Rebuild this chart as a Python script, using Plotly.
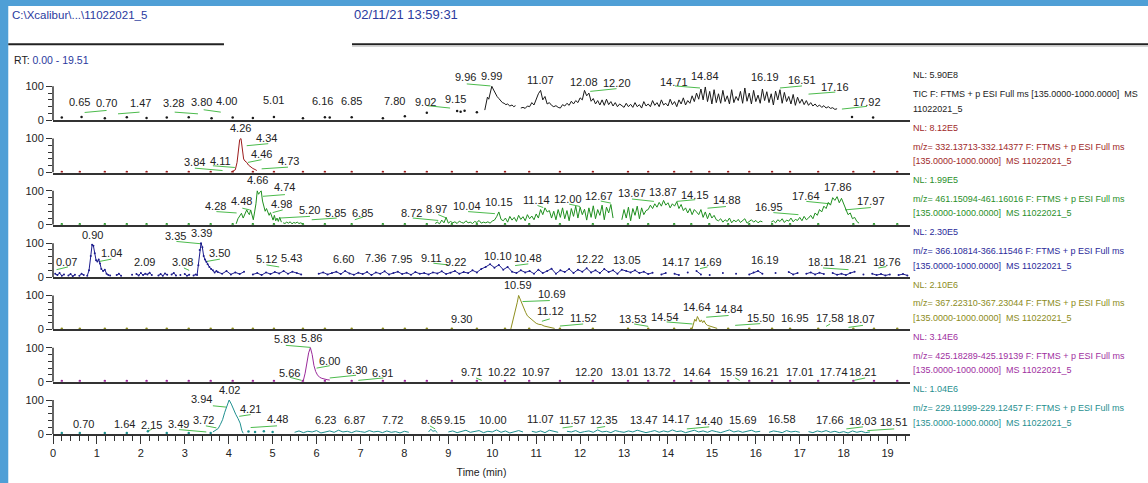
import plotly.graph_objects as go
from plotly.subplots import make_subplots

FONT = "Liberation Sans, Arial, sans-serif"
X_MAX = 19.51
Y_TOP = 153.8

# ---------------- data (retention time in min, relative abundance %) ----------------
# shared sparse scan points that show as small dots at the baseline
SPARSE_T = [0.20, 0.61, 1.18, 1.68, 2.13, 2.59, 3.09, 3.59, 4.09, 4.55, 5.03, 5.69, 6.19,
            6.80, 7.51, 8.01, 8.51, 9.08, 9.65, 10.29, 10.84, 11.54, 12.29, 13.09, 13.55,
            14.14, 14.53, 14.94, 15.37, 15.85, 16.37, 16.78, 17.42, 18.22, 18.69, 19.22]

# TIC
TIC_DOT_T = [0.20, 0.65, 1.18, 1.68, 2.13, 2.59, 3.09, 3.61, 4.09, 4.55, 5.03, 5.69, 6.19,
             6.30, 6.80, 7.51, 8.01, 8.51, 9.20, 9.28, 9.37, 9.65, 18.19, 18.67]
TIC_DOT_V = [8, 10, 6, 9, 7, 8, 9, 6, 8, 7, 10, 6, 9, 8, 9, 6, 12, 22, 27, 25, 28, 24, 10, 8]
TIC_A_T = [9.83, 9.86, 9.89, 9.92, 9.95, 9.99, 10.02, 10.05, 10.08, 10.11, 10.15, 10.19,
           10.23, 10.27, 10.31, 10.35, 10.40, 10.45, 10.49, 10.53]
TIC_A_V = [30, 48, 68, 62, 80, 100, 92, 84, 78, 70, 64, 57, 52, 50, 46, 48, 42, 45, 40, 43]
TIC_B_START, TIC_B_STEP = 10.65, 0.05
TIC_B_V = [36, 38, 35, 42, 40, 52, 45, 62, 78, 88,
           60, 70, 48, 52, 44, 40, 43, 38, 36, 46,
           42, 50, 44, 56, 48, 58, 52, 66, 60, 88,
           72, 80, 56, 64, 48, 58, 45, 60, 44, 62,
           46, 55, 42, 52, 40, 48, 44, 38, 50, 40,
           47, 38, 52, 40, 46, 36, 55, 42, 48, 40,
           58, 44, 52, 40, 60, 45, 50, 42, 62, 46,
           55, 40, 60, 48, 66, 45, 58, 50, 72, 55,
           80, 62, 92, 60, 98, 55, 85, 48, 90, 52,
           78, 50, 88, 55, 72, 48, 90, 52, 70, 58,
           85, 50, 95, 56, 80, 48, 88, 55, 74, 50,
           92, 58, 84, 52, 78, 45, 86, 60, 90, 50,
           82, 55, 70, 48, 76, 44, 68, 50, 62, 46,
           58, 44, 52, 42, 48, 40, 45, 38, 43, 36,
           40, 35, 37, 32, 34]

# m/z 332
R_T = [4.05, 4.10, 4.15, 4.19, 4.22, 4.25, 4.28, 4.31, 4.34, 4.37, 4.41, 4.45, 4.50, 4.55, 4.60, 4.64]
R_V = [1, 4, 8, 30, 70, 97, 100, 62, 40, 34, 30, 22, 16, 12, 9, 6]

# m/z 461
G_A_T = [4.17, 4.21, 4.25, 4.29, 4.33, 4.37, 4.41, 4.44, 4.47, 4.50, 4.53, 4.56, 4.59, 4.62,
         4.65, 4.68, 4.71, 4.74, 4.77, 4.80, 4.83, 4.86, 4.89, 4.92, 4.95, 4.98, 5.01, 5.04,
         5.07, 5.10, 5.13, 5.16, 5.20]
G_A_V = [3, 18, 26, 34, 20, 30, 44, 36, 30, 44, 28, 15, 38, 62, 100, 90, 96, 100, 70, 52, 40,
         48, 35, 28, 36, 22, 14, 28, 12, 20, 10, 22, 8]
G_B_START, G_B_STEP = 5.24, 0.04
G_B_V = [6, 4, 8, 5, 9, 3, 7, 5, 8, 4, 6, 3]
G_C_START, G_C_STEP = 8.70, 0.05
G_C_V = [4, 8, 3, 14, 6, 22, 5, 10, 6, 9,
         4, 11, 7, 5, 12, 6, 8, 4, 10, 7,
         13, 5, 8, 6, 9, 5, 11, 14, 24, 38,
         16, 12, 20, 8, 25, 14, 22, 10, 28, 16,
         24, 12, 30, 18, 26, 15, 32, 20, 45, 30,
         50, 38, 42, 20, 40, 15, 45, 22, 50, 18,
         42, 12, 48, 25, 55, 20, 52, 30, 46, 14,
         50, 22, 56, 18, 45, 28, 58, 15, 52, 35,
         60, 20, None, None, None, 15, 45, 20, 52, 12,
         48, 28, 55, 18, 50, 30, 42, 45, 58, 48,
         62, 52, 66, 55, 72, 58, 65, 50, 62, 55,
         68, 48, 60, 42, 50, 35, 48, 30, 45, 38,
         30, 45, 22, 38, 18, 35, 20, 28, 15, 12,
         18, 8, 15, 10, 20, 6, 14, 9, 16, 7,
         12, 18, 5, 10, 15, 8, 13, 6, 11, 9,
         None, None, None, 8, 12, 6, 15, 10, 18, 7,
         14, 11, 20, 9, 16, 13, 22, 12, 25, 15,
         20, 28, 18, 35, 28, 45, 38, 55, 48, 66,
         58, 80, 72, 83, 65, 78, 60, 45, 30, 35,
         18, 22, 10, 5]

# m/z 366
B_A_START, B_A_STEP = 0.05, 0.05
B_A_V = [10, 6, 12, 4, 8, None, 5, 9, 3, 7, None, 4, 10, 6]
B_P1_T = [0.78, 0.82, 0.86, 0.89, 0.92, 0.95, 0.98, 1.01, 1.04, 1.07, 1.10, 1.14, 1.18, 1.22, 1.26]
B_P1_V = [4, 20, 62, 95, 92, 70, 50, 46, 52, 40, 24, 18, 22, 10, 6]
B_B_START, B_B_STEP = 1.30, 0.05
B_B_V = [5, None, None, 6, 10, 4, None, None, None, None,
         7, None, 9, 5, 12, 6, 10, 8, 13, 6,
         None, None, 5, 9, 4, 11, 7, None, 8, 12,
         5, None, 6, None, 9, 4, 7, None, 5, 8]
B_P2_T = [3.28, 3.31, 3.34, 3.37, 3.40, 3.43, 3.46, 3.49, 3.52, 3.56, 3.60, 3.64, 3.68, 3.72]
B_P2_V = [6, 35, 80, 100, 88, 62, 52, 45, 38, 30, 24, 20, 14, 18]
B_C_START, B_C_STEP = 3.75, 0.10
B_C_V = [15, 10, 18, 8, 14, 9, 16]
B_D_START, B_D_STEP = 4.55, 0.10
B_D_V = [8, 12, 6, 14, 9, 15, 11, 18, 10, 16, 12, 8]
B_E_START, B_E_STEP = 6.05, 0.10
B_E_V = [10, 14, 8, 12, 16, 9, 18, 11, 7, 13,
         9, 15, 6, 14, 10, 17, 8, 12, 16, 9,
         13, 7, 15, 10, 12, 8, 14, 11, 17, 9,
         13, 18, 10, 15, 12, 20, 14, 24, 30, 38,
         28, 36, 22, 30, 16, 12, 20, 14, 18, 10,
         22, 12, 18, 25, 10, 20, 15, 24, 12, 22,
         16, 26, 14, 20, 12, 24, 15, 20, 10, 22,
         18, 14, 20, 12, 16, 9, 13, None, 8, 12,
         None, 10, 6, None, 14, None, 18, 8, None, 6,
         None, None, 12, None, None, 10, None, None, 8, 14,
         18, 10, None, None, 12, None, None, 15, 8, 12,
         None, 10, 14, 8, 13, 9, None, 12, 7, 10,
         6, 12, 16, None, 8, None, 10, 6, 9, 5,
         8, None, 6, 9, 5]

# m/z 367
O_P1_T = [10.42, 10.46, 10.50, 10.54, 10.57, 10.60, 10.63, 10.66, 10.69, 10.72, 10.76, 10.80,
          10.85, 10.90, 10.95, 11.00, 11.06, 11.12, 11.18, 11.24, 11.30, 11.36, 11.42]
O_P1_V = [0, 20, 40, 62, 80, 100, 90, 78, 68, 58, 50, 40, 34, 28, 24, 18, 15, 14, 10, 8, 6, 5, 3]
O_P2_T = [14.55, 14.58, 14.61, 14.64, 14.67, 14.70, 14.73, 14.76, 14.79, 14.82, 14.86, 14.90,
          14.95, 15.00, 15.06, 15.12]
O_P2_V = [2, 15, 30, 24, 38, 30, 22, 28, 20, 26, 16, 12, 10, 8, 5, 3]

# m/z 425
M_T = [5.66, 5.70, 5.74, 5.78, 5.82, 5.86, 5.90, 5.94, 5.98, 6.02, 6.07, 6.12, 6.18, 6.24, 6.30]
M_V = [0, 4, 25, 55, 85, 100, 80, 48, 30, 20, 13, 10, 7, 6, 5]

# m/z 229
C_DOT_T = [0.20, 0.61, 1.18, 1.68, 2.16, 2.59, 3.09, 3.59, 4.45, 4.60, 4.80, 5.00]
C_DOT_V = [3, 3, 3, 3, 8, 3, 3, 3, 7, 6, 8, 6]
C_P_T = [3.64, 3.70, 3.76, 3.81, 3.86, 3.91, 3.96, 4.01, 4.06, 4.11, 4.16, 4.21, 4.26, 4.30, 4.33]
C_P_V = [6, 10, 16, 28, 42, 64, 82, 100, 88, 70, 58, 46, 32, 10, 2]
C_A_START, C_A_STEP = 5.50, 0.10
C_A_V = [5, 9, 4, 8, 6, 10, 3, 7, 9, 5, 11, 6, 8, 4, 9, 7, 5, 10, 6, 8, 4, 9, 5, 7, 3, 8, 5]
C_B_START, C_B_STEP = 8.55, 0.05
C_B_V = [6, 14, 8, 10, 4]
C_C_START, C_C_STEP = 9.00, 0.10
C_C_V = [6, 9, 4, 8, 11, 5, 7, 10, 4, 8,
         6, 12, 5, 9, 3, 7, 10, 6, None, 8,
         5, 9, 4, 11, 7, 5, None, 8, 6, 10,
         4, 7, 9, 5, 12, 6, 8, 4, 10, 7,
         5, 9, 6, 11, 8, 4, 7, 10, 5, 9,
         6, 12, 7, 9, 4, 8, 11, 6, 9, 5,
         10, 7, 4, 8, 12, 6, 9, 5, 7, 11,
         6, 8, None, 5, 9, 7, 4, 10, 6, 8,
         5, None, 7, 4, 9, 6, 10, 5, 8, 4,
         7, 3, 9, 5, 8, 4, 6]

# peak labels: (text, rt position of label, height of label in %)
TIC_LABELS = [("0.65", 0.61, 54), ("0.70", 1.22, 51), ("1.47", 2.00, 51), ("3.28", 2.75, 51),
              ("3.80", 3.39, 54), ("4.00", 3.96, 57), ("5.01", 5.03, 60), ("6.16", 6.14, 57),
              ("6.85", 6.80, 57), ("7.80", 7.78, 57), ("9.02", 8.49, 54), ("9.15", 9.17, 63),
              ("9.96", 9.38, 126), ("9.99", 9.99, 131), ("11.07", 11.09, 119), ("12.08", 12.09, 114),
              ("12.20", 12.84, 109), ("14.71", 14.14, 114), ("14.84", 14.84, 129), ("16.19", 16.21, 126),
              ("16.51", 17.05, 119), ("17.16", 17.81, 99), ("17.92", 18.54, 55)]
R_LABELS = [("4.26", 4.27, 131), ("4.34", 4.87, 101), ("4.46", 4.75, 54), ("4.73", 5.36, 33),
            ("3.84", 3.21, 30), ("4.11", 3.81, 35)]
G_LABELS = [("4.66", 4.66, 131), ("4.74", 5.28, 110), ("4.28", 3.71, 56), ("4.48", 4.28, 69),
            ("4.98", 5.21, 62), ("5.20", 5.83, 44), ("5.85", 6.44, 36), ("6.85", 7.05, 36),
            ("8.72", 8.16, 36), ("8.97", 8.72, 46), ("10.04", 9.42, 56), ("10.15", 10.16, 66),
            ("11.14", 11.00, 74), ("12.00", 11.73, 77), ("12.67", 12.43, 86), ("13.67", 13.18, 94),
            ("13.87", 13.88, 98), ("14.15", 14.62, 89), ("14.88", 15.34, 72), ("16.95", 16.29, 52),
            ("17.64", 17.15, 86), ("17.86", 17.88, 110), ("17.97", 18.62, 71)]
B_LABELS = [("0.90", 0.91, 125), ("1.04", 1.33, 71), ("0.07", 0.31, 44), ("2.09", 2.09, 44),
            ("3.08", 2.95, 44), ("3.35", 2.79, 122), ("3.39", 3.38, 130), ("3.50", 3.78, 71),
            ("5.12", 4.85, 53), ("5.43", 5.43, 56), ("6.60", 6.61, 53), ("7.36", 7.35, 56),
            ("7.95", 7.94, 53), ("9.11", 8.62, 56), ("9.22", 9.17, 44), ("10.10", 10.12, 63),
            ("10.48", 10.82, 56), ("12.22", 12.23, 53), ("13.05", 13.06, 49), ("14.17", 14.18, 46),
            ("14.69", 14.91, 46), ("16.19", 16.21, 49), ("18.11", 17.50, 44), ("18.21", 18.22, 53),
            ("18.76", 18.98, 44)]
O_LABELS = [("9.30", 9.30, 31), ("10.59", 10.59, 131), ("10.69", 11.35, 104), ("11.12", 11.33, 53),
            ("11.52", 12.07, 34), ("13.53", 13.21, 31), ("14.54", 13.93, 38), ("14.64", 14.66, 66),
            ("14.84", 15.40, 60), ("15.50", 16.11, 35), ("16.95", 16.89, 34), ("17.58", 17.69, 34),
            ("18.07", 18.39, 31)]
M_LABELS = [("5.83", 5.28, 126), ("5.86", 5.89, 129), ("6.00", 6.29, 60), ("5.66", 5.38, 26),
            ("6.30", 6.90, 33), ("6.91", 7.50, 26), ("9.71", 9.53, 28), ("10.22", 10.23, 28),
            ("10.97", 11.00, 28), ("12.20", 12.21, 28), ("13.01", 13.02, 28), ("13.72", 13.74, 28),
            ("14.64", 14.66, 30), ("15.59", 15.51, 28), ("16.21", 16.21, 28), ("17.01", 17.01, 28),
            ("17.74", 17.77, 28), ("18.21", 18.45, 28)]
C_LABELS = [("4.02", 4.01, 128), ("3.94", 3.39, 103), ("4.21", 4.50, 74), ("3.72", 3.43, 42),
            ("4.48", 5.10, 44), ("3.49", 2.85, 30), ("2.15", 2.24, 27), ("1.64", 1.63, 30),
            ("0.70", 0.70, 30), ("6.23", 6.21, 40), ("6.87", 6.87, 40), ("7.72", 7.73, 42),
            ("8.65", 8.62, 42), ("9.15", 9.13, 40), ("10.00", 10.01, 40), ("11.07", 11.09, 44),
            ("11.57", 11.83, 40), ("12.35", 12.55, 40), ("13.47", 13.46, 40), ("14.17", 14.18, 44),
            ("14.40", 14.94, 37), ("15.69", 15.70, 40), ("16.58", 16.59, 44), ("17.66", 17.68, 40),
            ("18.03", 18.44, 37), ("18.51", 19.15, 34)]

# leader lines (rt0, %0, rt1, %1)
TIC_LEADERS = [(0.72, 23, 1.22, 29), (1.48, 19, 1.97, 24), (2.77, 24, 3.30, 19), (3.43, 31, 3.82, 24),
               (8.52, 43, 9.04, 36), (9.42, 107, 9.96, 101), (12.23, 85, 12.83, 93),
               (14.16, 101, 14.73, 95), (16.55, 95, 17.05, 101), (17.20, 77, 17.81, 83),
               (17.96, 33, 18.53, 41)]
R_LEADERS = [(4.41, 79, 4.90, 85), (4.44, 30, 4.75, 38), (4.75, 11, 5.35, 16), (3.23, 13, 3.86, 6),
             (3.64, 20, 4.14, 15)]
G_LEADERS = [(4.78, 84, 5.28, 89), (3.72, 39, 4.18, 35), (4.31, 49, 4.48, 44), (5.00, 36, 5.23, 44),
             (5.16, 20, 5.85, 25), (5.89, 15, 6.46, 20), (6.87, 15, 7.06, 23), (8.19, 20, 8.77, 13),
             (8.77, 30, 8.96, 20), (9.45, 39, 10.06, 33), (11.03, 57, 11.16, 51),
             (11.75, 61, 12.00, 54), (12.47, 70, 12.70, 64), (13.18, 76, 13.68, 69),
             (14.20, 69, 14.62, 74), (14.90, 49, 15.32, 54), (16.40, 36, 16.97, 30),
             (17.15, 69, 17.69, 62), (18.03, 44, 18.62, 51)]
B_LEADERS = [(0.08, 22, 0.34, 30), (1.05, 46, 1.33, 53), (2.98, 27, 3.10, 20), (2.81, 105, 3.38, 98),
             (3.49, 46, 3.80, 53), (4.86, 36, 5.15, 30), (8.66, 41, 9.00, 36), (10.52, 34, 10.82, 39),
             (14.73, 25, 14.90, 30), (17.53, 27, 18.11, 22), (18.79, 27, 18.97, 31)]
O_LEADERS = [(10.69, 82, 11.31, 85), (11.13, 24, 11.31, 31), (11.54, 10, 12.07, 16),
             (13.23, 16, 13.55, 9), (13.97, 22, 14.56, 16), (14.87, 36, 15.38, 41),
             (15.53, 12, 16.10, 17), (17.60, 9, 17.69, 16), (18.11, 6, 18.44, 12)]
M_LEADERS = [(5.30, 107, 5.86, 101), (6.00, 40, 6.30, 47), (5.39, 13, 5.66, 4), (6.30, 11, 6.90, 19),
             (6.95, 4, 7.52, 11), (9.63, 11, 9.76, 4), (15.53, 11, 15.63, 4), (18.24, 4, 18.49, 11)]
C_LEADERS = [(3.64, 83, 3.95, 79), (4.24, 52, 4.50, 57), (3.48, 24, 3.72, 18), (4.50, 19, 5.10, 24),
             (2.87, 13, 3.49, 6), (2.14, 7, 2.26, 15), (11.60, 18, 11.83, 22), (12.38, 18, 12.57, 22),
             (14.43, 15, 14.94, 21), (18.06, 15, 18.44, 21), (18.54, 10, 19.15, 15), (8.58, 24, 8.70, 15)]

NL_TEXT = ["NL: 5.90E8", "NL: 8.12E5", "NL: 1.99E5", "NL: 2.30E5", "NL: 2.10E6", "NL: 3.14E6", "NL: 1.04E6"]
FILTER_TEXT = ["TIC F: FTMS + p ESI Full ms [135.0000-1000.0000]\u00a0 MS",
               "m/z= 332.13713-332.14377 F: FTMS + p ESI Full ms",
               "m/z= 461.15094-461.16016 F: FTMS + p ESI Full ms",
               "m/z= 366.10814-366.11546 F: FTMS + p ESI Full ms",
               "m/z= 367.22310-367.23044 F: FTMS + p ESI Full ms",
               "m/z= 425.18289-425.19139 F: FTMS + p ESI Full ms",
               "m/z= 229.11999-229.12457 F: FTMS + p ESI Full ms"]
THIRD_TEXT = ["11022021_5"] + ["[135.0000-1000.0000]\u00a0 MS 11022021_5"] * 6
TRACE_COLORS = ["#1a1a1a", "#9c1c1c", "#1f8f1f", "#1c1c8c", "#8f8f1f", "#9a2a9a", "#1f8f8f"]
TEXT_COLORS = ["#222222", "#a02828", "#2a8f2a", "#2a2a9a", "#8c8c22", "#a0309f", "#1f8f8f"]
LEADER_COLOR = "#4cbb4c"


def grid(start, step, n):
    return [round(start + k * step, 3) for k in range(n)]


def join(*segs):
    xs, ys = [], []
    for t, v in segs:
        if xs:
            xs.append(None)
            ys.append(None)
        xs.extend(t)
        ys.extend(v)
    return xs, ys


LINES = [
    join((TIC_A_T, TIC_A_V), (grid(TIC_B_START, TIC_B_STEP, len(TIC_B_V)), TIC_B_V)),
    join((R_T, R_V)),
    join((G_A_T, G_A_V), (grid(G_B_START, G_B_STEP, len(G_B_V)), G_B_V),
         (grid(G_C_START, G_C_STEP, len(G_C_V)), G_C_V)),
    join((grid(B_A_START, B_A_STEP, len(B_A_V)), B_A_V), (B_P1_T, B_P1_V),
         (grid(B_B_START, B_B_STEP, len(B_B_V)), B_B_V), (B_P2_T, B_P2_V),
         (grid(B_C_START, B_C_STEP, len(B_C_V)), B_C_V), (grid(B_D_START, B_D_STEP, len(B_D_V)), B_D_V),
         (grid(B_E_START, B_E_STEP, len(B_E_V)), B_E_V)),
    join((O_P1_T, O_P1_V), (O_P2_T, O_P2_V)),
    join((M_T, M_V)),
    join((C_P_T, C_P_V), (grid(C_A_START, C_A_STEP, len(C_A_V)), C_A_V),
         (grid(C_B_START, C_B_STEP, len(C_B_V)), C_B_V), (grid(C_C_START, C_C_STEP, len(C_C_V)), C_C_V)),
]
DOTS = [
    (TIC_DOT_T, TIC_DOT_V),
    (SPARSE_T, [2] * len(SPARSE_T)),
    (SPARSE_T, [2] * len(SPARSE_T)),
    ([], []),
    (SPARSE_T, [2] * len(SPARSE_T)),
    (SPARSE_T, [2] * len(SPARSE_T)),
    (C_DOT_T, C_DOT_V),
]
LABELS = [TIC_LABELS, R_LABELS, G_LABELS, B_LABELS, O_LABELS, M_LABELS, C_LABELS]
LEADERS = [TIC_LEADERS, R_LEADERS, G_LEADERS, B_LEADERS, O_LEADERS, M_LEADERS, C_LEADERS]

fig = make_subplots(rows=7, cols=1, shared_xaxes=True, vertical_spacing=0)
annotations = []
shapes = []

for i in range(7):
    row = i + 1
    sfx = "" if row == 1 else str(row)
    col = TRACE_COLORS[i]
    # leader lines
    lx, ly = [], []
    for (a, b, c, d) in LEADERS[i]:
        lx += [a, c, None]
        ly += [b, d, None]
    fig.add_trace(go.Scatter(x=lx, y=ly, mode="lines", line=dict(color=LEADER_COLOR, width=1),
                             hoverinfo="skip"), row=row, col=1)
    xs, ys = LINES[i]
    fig.add_trace(go.Scatter(x=xs, y=ys, mode="lines", line=dict(color=col, width=1),
                             connectgaps=False, hoverinfo="skip"), row=row, col=1)
    if i == 3:
        fig.add_trace(go.Scatter(x=xs, y=ys, mode="markers", marker=dict(color=col, size=2),
                                 hoverinfo="skip"), row=row, col=1)
    dt, dv = DOTS[i]
    if dt:
        fig.add_trace(go.Scatter(x=dt, y=dv, mode="markers", marker=dict(color=col, size=2.5),
                                 hoverinfo="skip"), row=row, col=1)
    for (txt, t, h) in LABELS[i]:
        annotations.append(dict(x=t, y=h, xref="x" + sfx, yref="y" + sfx, text=txt, showarrow=False,
                                xanchor="center", yanchor="middle",
                                font=dict(family=FONT, size=11, color="#222222")))
    # right-hand description
    for txt, h in ((NL_TEXT[i], 131.8), (FILTER_TEXT[i], 76.5), (THIRD_TEXT[i], 33.8)):
        annotations.append(dict(x=1.0012, y=h, xref="paper", yref="y" + sfx, text=txt, showarrow=False,
                                xanchor="left", yanchor="middle",
                                font=dict(family=FONT, size=9, color=TEXT_COLORS[i])))
    # vertical axis line from 0 to 100
    shapes.append(dict(type="line", xref="x" + sfx + " domain", yref="y" + sfx, x0=0, x1=0, y0=0, y1=100,
                       line=dict(color="#333333", width=1.5)))

fig.update_yaxes(range=[0, Y_TOP], tickmode="array", tickvals=[0, 100], ticktext=["0", "100"],
                 ticks="outside", ticklen=6, tickwidth=1.3, tickcolor="#333333", automargin=False,
                 minor=dict(tickmode="array", tickvals=[20, 40, 60, 80], ticks="outside", ticklen=4,
                            tickwidth=1.2, tickcolor="#333333", showgrid=False),
                 showgrid=False, zeroline=False, showline=False,
                 tickfont=dict(family=FONT, size=11, color="#222222"))
fig.update_xaxes(range=[0, X_MAX], showgrid=False, zeroline=False, showline=True, automargin=False,
                 linecolor="#333333", linewidth=2, ticks="")
fig.update_xaxes(row=7, col=1, ticks="outside", tickmode="linear", tick0=0, dtick=1, ticklen=8,
                 tickwidth=1.3, tickcolor="#333333", showticklabels=True,
                 minor=dict(dtick=0.2, tick0=0, ticks="outside", ticklen=5, tickwidth=1.1,
                            tickcolor="#333333", showgrid=False),
                 tickfont=dict(family=FONT, size=11, color="#222222"),
                 title=dict(text="Time (min)", font=dict(family=FONT, size=10.5, color="#222222"), standoff=10))

# page furniture (frame strips, header text and rules), in paper units
BLUE = "#4f9fd6"
HEADER_BLUE = "#2a3a9e"
shapes += [
    dict(type="rect", xref="paper", yref="paper", x0=-0.0625, x1=-0.0522, y0=-0.14, y1=1.19,
         fillcolor=BLUE, line=dict(width=0), layer="above"),
    dict(type="rect", xref="paper", yref="paper", x0=-0.0625, x1=1.28, y0=1.1694, y1=1.19,
         fillcolor=BLUE, line=dict(width=0), layer="above"),
    dict(type="line", xref="paper", yref="paper", x0=-0.0522, x1=0.1995, y0=1.0648, y1=1.0648,
         line=dict(color="#222222", width=2)),
    dict(type="line", xref="paper", yref="paper", x0=0.3489, x1=1.28, y0=1.0648, y1=1.0648,
         line=dict(color="#222222", width=2)),
    dict(type="line", xref="paper", yref="paper", x0=0.3489, x1=1.28, y0=1.0592, y1=1.0592,
         line=dict(color="#cccccc", width=1)),
]
annotations += [
    dict(x=-0.0502, y=1.145, xref="paper", yref="paper", text="C:\\Xcalibur\\...\\11022021_5",
         showarrow=False, xanchor="left", yanchor="middle", font=dict(family=FONT, size=11.5, color=HEADER_BLUE)),
    dict(x=0.3489, y=1.145, xref="paper", yref="paper", text="02/11/21 13:59:31",
         showarrow=False, xanchor="left", yanchor="middle", font=dict(family=FONT, size=13, color=HEADER_BLUE)),
    dict(x=-0.0478, y=1.0219, xref="paper", yref="paper",
         text="RT: <span style='color:" + HEADER_BLUE + "'>0.00 - 19.51</span>",
         showarrow=False, xanchor="left", yanchor="middle", font=dict(family=FONT, size=10.5, color="#222222")),
]

fig.update_layout(width=1148, height=483, margin=dict(l=53, r=238, t=68, b=49, pad=0),
                  paper_bgcolor="white", plot_bgcolor="white", showlegend=False,
                  annotations=annotations, shapes=shapes)
fig.write_html("out.html", config={"displayModeBar": False},
               post_script="document.body.style.margin='0px';")
